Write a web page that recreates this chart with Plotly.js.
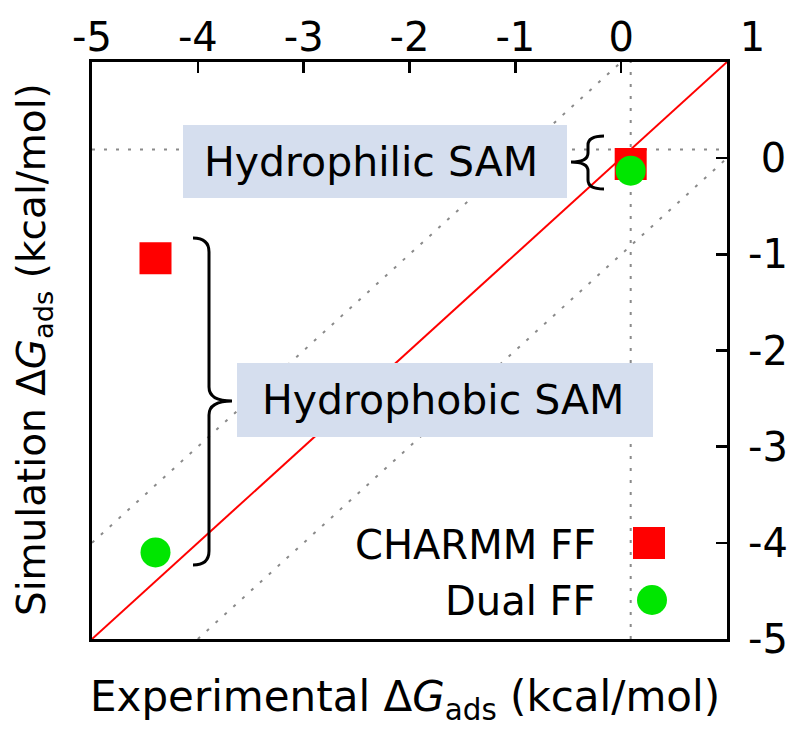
<!DOCTYPE html>
<html>
<head>
<meta charset="utf-8">
<script src="https://cdn.plot.ly/plotly-3.0.1.min.js"></script>
<style>html,body{margin:0;padding:0;background:#fff;}#chart{width:800px;height:729px;}</style>
</head>
<body>
<div id="chart"></div>
<script>
// ---- data ----
const xRange = [-5, 1];
const yRange = [-5, 1];
const xTickVals = [-5, -4, -3, -2, -1, 0, 1];
const xTickText = ['-5', '-4', '-3', '-2', '-1', '0', '\u00a0\u00a0\u00a0\u00a01'];
const yTickVals = [-5, -4, -3, -2, -1, 0];
const yTickText = ['-5', '-4', '-3', '-2', '-1', '\u00a00'];
const seriesNames = ['CHARMM FF', 'Dual FF'];
const samLabels = ['Hydrophobic SAM', 'Hydrophilic SAM'];
const charmmX = [-4.40, 0.09];
const charmmY = [-1.04, -0.06];
const dualX = [-4.40, 0.09];
const dualY = [-4.10, -0.13];
const parityX = [-5, 1];
const parityY = [-5, 1];
const upperBandX = [-5, 0];
const upperBandY = [-4, 1];
const lowerBandX = [-4, 1];
const lowerBandY = [-5, 0];
const refVertX = [0.09, 0.09];
const refVertY = [-5, 1];
const refHorX = [-5, 1];
const refHorY = [0.09, 0.09];

// ---- geometry helpers (pixel -> data) ----
const L = 92, R = 727, T = 62, B = 639;
const px2x = p => xRange[0] + (p - L) / (R - L) * (xRange[1] - xRange[0]);
const px2y = p => yRange[0] + (B - p) / (B - T) * (yRange[1] - yRange[0]);
const pxX = p => (p - L) / (R - L);
const pxY = p => (B - p) / (B - T);

const FONT = 'DejaVu Sans, sans-serif';
const dotted = {color: '#8a8a8a', width: 2, dash: '3px,9px'};

const traces = [
  {x: refVertX, y: refVertY, mode: 'lines', line: dotted, hoverinfo: 'skip', showlegend: false},
  {x: refHorX, y: refHorY, mode: 'lines', line: dotted, hoverinfo: 'skip', showlegend: false},
  {x: upperBandX, y: upperBandY, mode: 'lines', line: dotted, hoverinfo: 'skip', showlegend: false},
  {x: lowerBandX, y: lowerBandY, mode: 'lines', line: dotted, hoverinfo: 'skip', showlegend: false},
  {x: parityX, y: parityY, mode: 'lines', line: {color: '#ff0000', width: 2}, hoverinfo: 'skip', showlegend: false},
  {x: charmmX, y: charmmY, name: seriesNames[0], mode: 'markers', showlegend: false,
   marker: {symbol: 'square', size: 32, color: '#ff0000', line: {width: 0}}},
  {x: dualX, y: dualY, name: seriesNames[1], mode: 'markers', showlegend: false,
   marker: {symbol: 'circle', size: 30, color: '#00e600', line: {width: 0}}},
  // legend symbols
  {x: [px2x(649)], y: [px2y(543)], mode: 'markers', showlegend: false, hoverinfo: 'skip',
   marker: {symbol: 'square', size: 32, color: '#ff0000', line: {width: 0}}},
  {x: [px2x(652)], y: [px2y(600)], mode: 'markers', showlegend: false, hoverinfo: 'skip',
   marker: {symbol: 'circle', size: 30, color: '#00e600', line: {width: 0}}}
];

function bracePath(x0, y0, y1, xs, xp, ym, r) {
  const X = px2x, Y = px2y;
  return 'M' + X(x0) + ',' + Y(y0) +
    ' Q' + X(xs) + ',' + Y(y0) + ' ' + X(xs) + ',' + Y(y0 + r) +
    ' L' + X(xs) + ',' + Y(ym - r) +
    ' Q' + X(xs) + ',' + Y(ym) + ' ' + X(xp) + ',' + Y(ym) +
    ' Q' + X(xs) + ',' + Y(ym) + ' ' + X(xs) + ',' + Y(ym + r) +
    ' L' + X(xs) + ',' + Y(y1 - r) +
    ' Q' + X(xs) + ',' + Y(y1) + ' ' + X(x0) + ',' + Y(y1);
}

const boxFill = '#d5deee';
const shapes = [
  {type: 'rect', xref: 'x', yref: 'y', x0: px2x(183), x1: px2x(567), y0: px2y(198), y1: px2y(125),
   fillcolor: boxFill, line: {width: 0}, layer: 'above'},
  {type: 'rect', xref: 'x', yref: 'y', x0: px2x(237), x1: px2x(653), y0: px2y(437), y1: px2y(363),
   fillcolor: boxFill, line: {width: 0}, layer: 'above'},
  {type: 'path', xref: 'x', yref: 'y', layer: 'above', line: {color: '#000', width: 3},
   path: bracePath(193, 238, 565, 209, 232, 401, 14)},
  {type: 'path', xref: 'x', yref: 'y', layer: 'above', line: {color: '#000', width: 3},
   path: bracePath(604, 136, 189, 588, 571, 162, 9)}
];

const annotations = [
  {xref: 'paper', yref: 'paper', x: pxX(371), y: pxY(162), text: samLabels[1], showarrow: false,
   font: {family: FONT, size: 41, color: '#000'}, xanchor: 'center', yanchor: 'middle'},
  {xref: 'paper', yref: 'paper', x: pxX(443), y: pxY(400), text: samLabels[0], showarrow: false,
   font: {family: FONT, size: 41, color: '#000'}, xanchor: 'center', yanchor: 'middle'},
  {xref: 'paper', yref: 'paper', x: pxX(598), y: pxY(545), text: seriesNames[0], showarrow: false,
   font: {family: FONT, size: 40, color: '#000'}, xanchor: 'right', yanchor: 'middle'},
  {xref: 'paper', yref: 'paper', x: pxX(598), y: pxY(601), text: seriesNames[1], showarrow: false,
   font: {family: FONT, size: 40, color: '#000'}, xanchor: 'right', yanchor: 'middle'},
  {xref: 'paper', yref: 'paper', x: pxX(405), y: pxY(699), showarrow: false,
   text: 'Experimental \u0394<i>G</i><sub>ads</sub> (kcal/mol)',
   font: {family: FONT, size: 42, color: '#000'}, xanchor: 'center', yanchor: 'middle'},
  {xref: 'paper', yref: 'paper', x: pxX(34), y: pxY(350), showarrow: false, textangle: -90,
   text: 'Simulation \u0394<i>G</i><sub>ads</sub> (kcal/mol)',
   font: {family: FONT, size: 39, color: '#000'}, xanchor: 'center', yanchor: 'middle'}
];

const axisCommon = {
  showgrid: false, zeroline: false, showline: true, linecolor: '#000', linewidth: 3,
  mirror: true, ticks: 'inside', ticklen: 11, tickwidth: 2.5, tickcolor: '#000',
  tickfont: {family: FONT, size: 40, color: '#000'}, fixedrange: true
};

const layout = {
  width: 800, height: 729,
  margin: {l: L, r: 800 - R, t: T, b: 729 - B, pad: 0},
  paper_bgcolor: '#fff', plot_bgcolor: '#fff',
  showlegend: false,
  xaxis: Object.assign({}, axisCommon, {range: xRange, side: 'top', tickvals: xTickVals,
    ticktext: xTickText, ticklabelstandoff: -8}),
  yaxis: Object.assign({}, axisCommon, {range: yRange, side: 'right', tickvals: yTickVals,
    ticktext: yTickText, ticklabelstandoff: 10}),
  shapes: shapes,
  annotations: annotations
};

Plotly.newPlot('chart', traces, layout, {displayModeBar: false, staticPlot: true});
</script>
</body>
</html>
